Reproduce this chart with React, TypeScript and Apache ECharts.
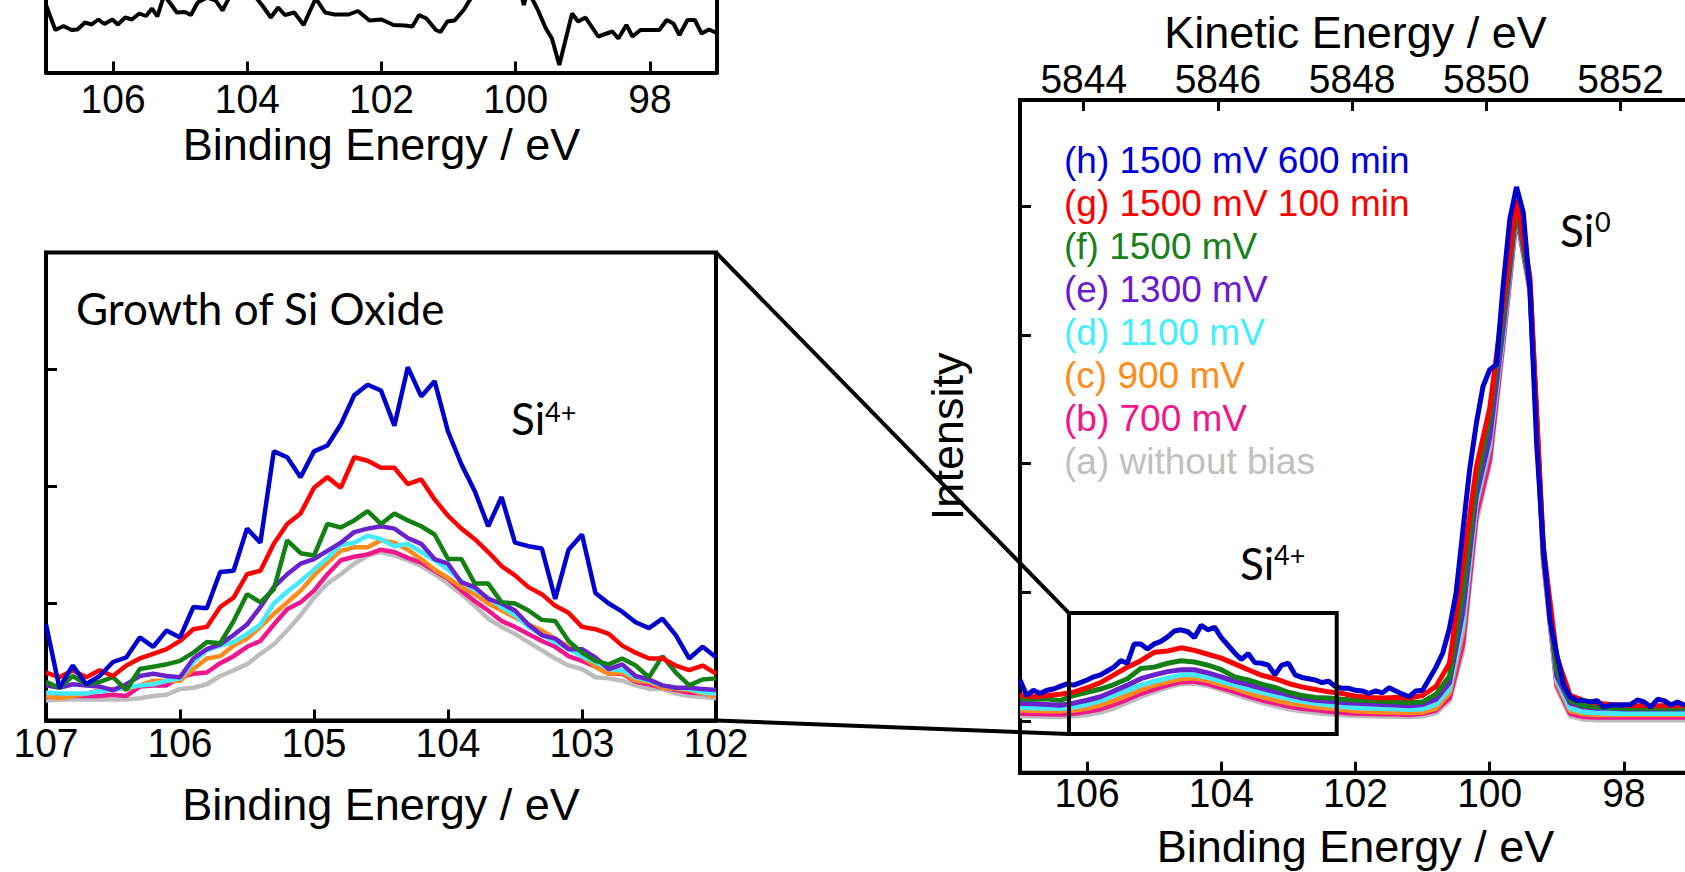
import React, { useEffect, useRef } from "react";
import * as echarts from "echarts";

// ---------- series identity ----------
const SERIES_NAMES = [
  "(a) without bias",
  "(b) 700 mV",
  "(c) 900 mV",
  "(d) 1100 mV",
  "(e) 1300 mV",
  "(f) 1500 mV",
  "(g) 1500 mV 100 min",
  "(h) 1500 mV 600 min",
];
const SERIES_COLORS = ["#bdbdbd", "#f0168c", "#ff8c1a", "#44eaff", "#6a22cc", "#138013", "#ff0000", "#0000cc"];
const LEGEND_COLORS = ["#c0c0c0", "#f0168c", "#ff8c1a", "#44eeff", "#6a1ad0", "#1a801a", "#ff0000", "#0000dd"];

// ---------- top-left panel (difference spectrum, only its lower part visible) ----------
const TL_BE = [107.0, 106.86, 106.74, 106.62, 106.53, 106.42, 106.32, 106.22, 106.13, 106.01, 105.93, 105.82, 105.72, 105.61, 105.51, 105.42, 105.34, 105.24, 105.14, 105.05, 104.93, 104.84, 104.74, 104.6, 104.47, 104.37, 104.25, 104.07, 103.86, 103.77, 103.65, 103.54, 103.44, 103.3, 103.16, 103.05, 102.98, 102.84, 102.7, 102.49, 102.35, 102.18, 102.0, 101.82, 101.65, 101.54, 101.44, 101.33, 101.19, 101.12, 101.02, 100.91, 100.77, 100.67, 100.46, 99.96, 99.88, 99.82, 99.68, 99.55, 99.46, 99.35, 99.16, 99.07, 98.96, 98.77, 98.56, 98.47, 98.35, 98.26, 98.14, 97.86, 97.75, 97.65, 97.56, 97.44, 97.33, 97.23, 97.12, 97.02];
const TL_VAL = [67.5, 42.5, 46.5, 42.5, 43, 50, 48, 53, 48.5, 53, 48, 55, 53, 59, 56.5, 64, 56, 77.5, 68.5, 60, 60.5, 57.5, 70, 75, 72, 62, 77.5, 81, 74, 66.5, 55, 65, 57.5, 60, 47.5, 64, 74, 60, 58, 58, 61.5, 52, 53, 47.5, 47, 46, 57.5, 54, 42.5, 40.5, 51, 52, 63, 74, 92, 92, 67.5, 82, 64, 44, 34, 7.5, 59, 51, 55, 36, 41, 34, 47.5, 36, 42.5, 42.5, 52.5, 49, 37.5, 52.5, 52.5, 39, 43, 40];
const TL_TICKS = [106, 104, 102, 100, 98];
const TL_X_RANGE = [97, 107];
const TL_Y_RANGE = [0, 72.5];

// ---------- inset (Growth of Si Oxide), 0.1 eV steps from 107.0 to 102.0 ----------
const INSET_BE = Array.from({ length: 51 }, (_, i) => +(107 - 0.1 * i).toFixed(1));
const INSET_A = [0.17, 0.18, 0.18, 0.18, 0.18, 0.18, 0.18, 0.19, 0.21, 0.22, 0.27, 0.28, 0.31, 0.38, 0.43, 0.48, 0.57, 0.65, 0.77, 0.9, 1.05, 1.17, 1.25, 1.34, 1.41, 1.44, 1.41, 1.37, 1.32, 1.25, 1.17, 1.08, 0.98, 0.87, 0.8, 0.74, 0.67, 0.6, 0.53, 0.47, 0.44, 0.37, 0.36, 0.34, 0.3, 0.27, 0.27, 0.23, 0.21, 0.2, 0.19];
const INSET_B = [0.2, 0.21, 0.21, 0.21, 0.21, 0.22, 0.21, 0.29, 0.3, 0.3, 0.37, 0.4, 0.41, 0.49, 0.55, 0.63, 0.68, 0.82, 0.95, 1.01, 1.11, 1.25, 1.37, 1.4, 1.42, 1.46, 1.44, 1.39, 1.35, 1.28, 1.21, 1.11, 1.02, 0.94, 0.85, 0.8, 0.74, 0.68, 0.63, 0.55, 0.51, 0.46, 0.4, 0.4, 0.33, 0.31, 0.28, 0.26, 0.24, 0.23, 0.21];
const INSET_C = [0.21, 0.19, 0.21, 0.23, 0.26, 0.27, 0.27, 0.3, 0.34, 0.34, 0.34, 0.44, 0.53, 0.55, 0.64, 0.7, 0.8, 0.91, 1.01, 1.11, 1.24, 1.35, 1.45, 1.48, 1.48, 1.54, 1.52, 1.46, 1.38, 1.29, 1.22, 1.14, 1.08, 1.0, 0.94, 0.88, 0.82, 0.77, 0.7, 0.63, 0.55, 0.46, 0.4, 0.41, 0.34, 0.33, 0.28, 0.27, 0.26, 0.23, 0.21];
const INSET_D = [0.24, 0.23, 0.23, 0.23, 0.25, 0.26, 0.28, 0.3, 0.31, 0.34, 0.36, 0.5, 0.6, 0.64, 0.67, 0.74, 0.82, 1.0, 1.1, 1.19, 1.29, 1.39, 1.5, 1.52, 1.58, 1.55, 1.49, 1.51, 1.44, 1.37, 1.29, 1.19, 1.12, 1.05, 0.97, 0.9, 0.8, 0.73, 0.67, 0.61, 0.55, 0.5, 0.44, 0.43, 0.37, 0.34, 0.3, 0.28, 0.27, 0.24, 0.23];
const INSET_E = [0.3, 0.28, 0.31, 0.3, 0.29, 0.26, 0.31, 0.38, 0.4, 0.38, 0.37, 0.53, 0.61, 0.65, 0.73, 0.82, 0.97, 1.14, 1.25, 1.34, 1.38, 1.45, 1.52, 1.61, 1.64, 1.66, 1.64, 1.56, 1.51, 1.38, 1.34, 1.18, 1.14, 1.04, 1.0, 0.94, 0.82, 0.73, 0.7, 0.61, 0.61, 0.54, 0.44, 0.48, 0.38, 0.35, 0.3, 0.28, 0.28, 0.27, 0.26];
const INSET_F = [0.33, 0.28, 0.38, 0.31, 0.33, 0.37, 0.26, 0.44, 0.46, 0.48, 0.51, 0.58, 0.67, 0.66, 0.85, 1.08, 1.01, 1.12, 1.54, 1.43, 1.41, 1.68, 1.65, 1.71, 1.79, 1.68, 1.77, 1.71, 1.66, 1.59, 1.38, 1.38, 1.17, 1.17, 1.01, 1.0, 0.94, 0.86, 0.85, 0.68, 0.58, 0.51, 0.48, 0.53, 0.47, 0.37, 0.55, 0.41, 0.3, 0.35, 0.36];
const INSET_G = [0.41, 0.37, 0.43, 0.37, 0.43, 0.38, 0.47, 0.53, 0.57, 0.61, 0.68, 0.78, 0.8, 0.97, 1.05, 1.25, 1.28, 1.51, 1.68, 1.77, 1.99, 2.08, 1.99, 2.25, 2.22, 2.16, 2.16, 2.02, 2.06, 1.89, 1.75, 1.64, 1.55, 1.44, 1.32, 1.24, 1.14, 1.08, 0.98, 0.92, 0.8, 0.78, 0.74, 0.64, 0.58, 0.53, 0.53, 0.47, 0.43, 0.47, 0.4];
const INSET_H = [0.82, 0.28, 0.47, 0.31, 0.38, 0.5, 0.54, 0.71, 0.63, 0.77, 0.71, 0.97, 0.96, 1.27, 1.28, 1.64, 1.52, 2.3, 2.25, 2.08, 2.3, 2.35, 2.53, 2.78, 2.87, 2.82, 2.52, 3.02, 2.77, 2.9, 2.47, 2.19, 1.96, 1.66, 1.91, 1.52, 1.49, 1.47, 1.04, 1.46, 1.59, 1.09, 1.0, 0.93, 0.84, 0.79, 0.87, 0.73, 0.53, 0.63, 0.54];
const INSET_VALUES = [INSET_A, INSET_B, INSET_C, INSET_D, INSET_E, INSET_F, INSET_G, INSET_H];
const INSET_X_RANGE = [102, 107];
const INSET_Y_RANGE = [0, 4];
const INSET_TICKS = [107, 106, 105, 104, 103, 102];

// ---------- main panel, 0.2 eV steps (a..g) and 0.1 eV steps (h), 107 -> 97 ----------
const MAIN_BE_COARSE = Array.from({ length: 51 }, (_, i) => +(107 - 0.2 * i).toFixed(1));
const MAIN_BE_FINE = Array.from({ length: 101 }, (_, i) => +(107 - 0.1 * i).toFixed(1));
const MAIN_A = [1.04, 1.038, 1.035, 1.035, 1.04, 1.05, 1.07, 1.1, 1.145, 1.19, 1.23, 1.265, 1.29, 1.295, 1.275, 1.245, 1.21, 1.175, 1.145, 1.12, 1.095, 1.08, 1.065, 1.055, 1.048, 1.042, 1.04, 1.038, 1.036, 1.035, 1.04, 1.065, 1.16, 1.55, 2.55, 3.0, 3.92, 4.92, 4.34, 2.24, 1.26, 1.04, 1.015, 1.01, 1.01, 1.01, 1.01, 1.01, 1.01, 1.01, 1.01];
const MAIN_B = [1.06, 1.058, 1.056, 1.054, 1.06, 1.075, 1.095, 1.13, 1.17, 1.215, 1.25, 1.28, 1.305, 1.31, 1.29, 1.26, 1.23, 1.195, 1.165, 1.14, 1.115, 1.098, 1.088, 1.075, 1.067, 1.06, 1.058, 1.055, 1.055, 1.05, 1.06, 1.085, 1.18, 1.6, 2.6, 3.03, 3.95, 4.93, 4.35, 2.25, 1.28, 1.06, 1.035, 1.03, 1.03, 1.03, 1.03, 1.03, 1.03, 1.03, 1.03];
const MAIN_C = [1.086, 1.083, 1.08, 1.08, 1.085, 1.1, 1.125, 1.16, 1.2, 1.245, 1.28, 1.305, 1.33, 1.335, 1.315, 1.285, 1.255, 1.22, 1.19, 1.165, 1.14, 1.125, 1.11, 1.1, 1.09, 1.08, 1.075, 1.07, 1.07, 1.065, 1.07, 1.1, 1.22, 1.7, 2.68, 3.12, 4.0, 4.96, 4.37, 2.27, 1.3, 1.08, 1.055, 1.05, 1.05, 1.05, 1.05, 1.05, 1.05, 1.05, 1.05];
const MAIN_D = [1.106, 1.103, 1.1, 1.098, 1.11, 1.13, 1.16, 1.2, 1.24, 1.28, 1.31, 1.335, 1.36, 1.36, 1.34, 1.31, 1.28, 1.25, 1.225, 1.2, 1.175, 1.155, 1.14, 1.125, 1.115, 1.105, 1.1, 1.098, 1.095, 1.09, 1.095, 1.13, 1.25, 1.75, 2.7, 3.15, 4.0, 4.97, 4.38, 2.28, 1.32, 1.1, 1.07, 1.065, 1.06, 1.06, 1.06, 1.06, 1.06, 1.06, 1.06];
const MAIN_E = [1.137, 1.135, 1.13, 1.124, 1.14, 1.163, 1.19, 1.235, 1.28, 1.33, 1.36, 1.385, 1.4, 1.4, 1.375, 1.345, 1.31, 1.285, 1.255, 1.23, 1.205, 1.18, 1.163, 1.155, 1.145, 1.14, 1.135, 1.13, 1.125, 1.12, 1.13, 1.17, 1.3, 1.85, 2.75, 3.2, 4.05, 4.98, 4.38, 2.28, 1.35, 1.14, 1.11, 1.1, 1.1, 1.095, 1.095, 1.095, 1.095, 1.095, 1.095];
const MAIN_F = [1.176, 1.17, 1.175, 1.16, 1.2, 1.225, 1.25, 1.285, 1.33, 1.41, 1.42, 1.45, 1.47, 1.46, 1.435, 1.4, 1.344, 1.32, 1.288, 1.262, 1.225, 1.2, 1.185, 1.18, 1.17, 1.165, 1.16, 1.155, 1.15, 1.145, 1.15, 1.21, 1.35, 2.0, 2.85, 3.35, 4.15, 5.0, 4.4, 2.3, 1.4, 1.16, 1.12, 1.11, 1.105, 1.1, 1.1, 1.1, 1.1, 1.1, 1.1];
const MAIN_G = [1.2, 1.19, 1.2, 1.21, 1.225, 1.26, 1.3, 1.36, 1.42, 1.47, 1.535, 1.545, 1.57, 1.55, 1.52, 1.49, 1.445, 1.4, 1.357, 1.33, 1.293, 1.267, 1.246, 1.228, 1.215, 1.195, 1.185, 1.18, 1.185, 1.18, 1.2, 1.27, 1.45, 2.2, 2.97, 3.43, 4.24, 5.05, 4.45, 2.35, 1.5, 1.2, 1.16, 1.14, 1.13, 1.125, 1.12, 1.12, 1.12, 1.12, 1.12];
const MAIN_H = [
  1.32, 1.2, 1.24, 1.215, 1.24, 1.25, 1.27, 1.29, 1.28, 1.3,
  1.32, 1.345, 1.36, 1.39, 1.42, 1.47, 1.45, 1.6, 1.6, 1.56,
  1.6, 1.62, 1.655, 1.7, 1.71, 1.695, 1.65, 1.745, 1.71, 1.73,
  1.65, 1.59, 1.53, 1.48, 1.525, 1.455, 1.45, 1.435, 1.36, 1.435,
  1.45, 1.36, 1.34, 1.33, 1.32, 1.3, 1.31, 1.27, 1.255, 1.255,
  1.24, 1.235, 1.215, 1.235, 1.22, 1.26, 1.235, 1.21, 1.19, 1.235,
  1.24, 1.33, 1.42, 1.53, 1.72, 2.0, 2.48, 2.95, 3.31, 3.6,
  3.73, 3.77, 4.38, 4.9, 5.15, 4.95, 4.35, 3.15, 2.35, 1.78,
  1.52, 1.28, 1.19, 1.16, 1.16, 1.15, 1.16, 1.11, 1.125, 1.125,
  1.125, 1.13, 1.165, 1.15, 1.11, 1.17, 1.16, 1.125, 1.15, 1.125,
  1.14,
];
const MAIN_COARSE_VALUES = [MAIN_A, MAIN_B, MAIN_C, MAIN_D, MAIN_E, MAIN_F, MAIN_G];
const MAIN_X_RANGE = [97, 107];
const MAIN_Y_RANGE = [0.6, 5.825];
const MAIN_BE_TICKS = [106, 104, 102, 100, 98];
const MAIN_Y_TICKS = [1, 2, 3, 4, 5];
const KE_PLUS_BE = 5950.05;
const KE_TICKS = [5844, 5846, 5848, 5850, 5852];

// zoom box drawn in the main panel (binding energy, intensity)
const ZOOM_BOX_BE = [106.27, 102.28];
const ZOOM_BOX_I = [0.9, 1.84];

const FONT = "'Liberation Sans', Arial, Helvetica, sans-serif";
const FONT_SI = "Lato, 'Open Sans', sans-serif";
const BLACK = "#000";
const TICK_FONT_SIZE = 41;
const TICK_SCALE_X = 0.95;

function tickCfg(custom?: number[]) {
  const t: any = { show: true, inside: true, length: 11, lineStyle: { color: BLACK, width: 3 } };
  if (custom) t.customValues = custom;
  return t;
}
const noLabel = { show: false };
const nameStyle = { fontSize: 45, fontFamily: FONT, color: BLACK };
const axisLine = { show: true, onZero: false, lineStyle: { color: BLACK, width: 4 } };

function buildOption(): any {
  const series: any[] = [];
  series.push({
    type: "line",
    name: "__diff",
    xAxisIndex: 0,
    yAxisIndex: 0,
    data: TL_BE.map((x, i) => [x, TL_VAL[i]]),
    symbol: "none",
    lineStyle: { color: BLACK, width: 4 },
    clip: true,
    silent: true,
  });
  SERIES_NAMES.forEach((name, k) => {
    series.push({
      type: "line",
      name,
      xAxisIndex: 1,
      yAxisIndex: 2,
      data: INSET_BE.map((x, i) => [x, INSET_VALUES[k][i]]),
      symbol: "none",
      lineStyle: { color: SERIES_COLORS[k], width: 4.5 },
      itemStyle: { color: SERIES_COLORS[k] },
      clip: true,
      silent: true,
    });
  });
  SERIES_NAMES.forEach((name, k) => {
    const fine = k === 7;
    const xs = fine ? MAIN_BE_FINE : MAIN_BE_COARSE;
    const ys = fine ? MAIN_H : MAIN_COARSE_VALUES[k];
    series.push({
      type: "line",
      name,
      xAxisIndex: 2,
      yAxisIndex: 3,
      data: xs.map((x, i) => [x, ys[i]]),
      symbol: "none",
      lineStyle: { color: SERIES_COLORS[k], width: 5 },
      itemStyle: { color: SERIES_COLORS[k] },
      clip: true,
      silent: true,
    });
  });
  series.push({
    type: "line",
    name: "__box",
    xAxisIndex: 2,
    yAxisIndex: 3,
    data: [
      [ZOOM_BOX_BE[0], ZOOM_BOX_I[0]],
      [ZOOM_BOX_BE[1], ZOOM_BOX_I[0]],
      [ZOOM_BOX_BE[1], ZOOM_BOX_I[1]],
      [ZOOM_BOX_BE[0], ZOOM_BOX_I[1]],
      [ZOOM_BOX_BE[0], ZOOM_BOX_I[0]],
    ],
    symbol: "none",
    lineStyle: { color: BLACK, width: 4, cap: "square", join: "miter" },
    z: 5,
    silent: true,
  });

  const legendText = { fontSize: 37, fontFamily: FONT };

  return {
    animation: false,
    backgroundColor: "#fff",
    grid: [
      { left: 46, top: 0, width: 671, height: 72.5, show: false, outerBoundsMode: "none" },
      { left: 46, top: 252.5, width: 670, height: 468, show: true, borderColor: BLACK, borderWidth: 4, backgroundColor: "transparent", outerBoundsMode: "none" },
      { left: 1020, top: 100, width: 671, height: 672.7, show: true, borderColor: BLACK, borderWidth: 4, backgroundColor: "transparent", outerBoundsMode: "none" },
    ],
    xAxis: [
      {
        gridIndex: 0, type: "value", min: TL_X_RANGE[0], max: TL_X_RANGE[1], inverse: true, position: "bottom",
        axisLine, axisTick: tickCfg(TL_TICKS), axisLabel: noLabel, splitLine: { show: false },
        name: "Binding Energy / eV", nameLocation: "middle", nameGap: 49, nameTextStyle: nameStyle, nameMoveOverlap: false,
      },
      {
        gridIndex: 1, type: "value", min: INSET_X_RANGE[0], max: INSET_X_RANGE[1], interval: 1, inverse: true, position: "bottom",
        axisLine, axisTick: tickCfg(), axisLabel: noLabel, splitLine: { show: false },
        name: "Binding Energy / eV", nameLocation: "middle", nameGap: 61, nameTextStyle: nameStyle, nameMoveOverlap: false,
      },
      {
        gridIndex: 2, type: "value", min: MAIN_X_RANGE[0], max: MAIN_X_RANGE[1], inverse: true, position: "bottom",
        axisLine, axisTick: tickCfg(MAIN_BE_TICKS), axisLabel: noLabel, splitLine: { show: false },
        name: "Binding Energy / eV", nameLocation: "middle", nameGap: 51, nameTextStyle: nameStyle, nameMoveOverlap: false,
      },
      {
        gridIndex: 2, type: "value", min: KE_PLUS_BE - MAIN_X_RANGE[1], max: KE_PLUS_BE - MAIN_X_RANGE[0], position: "top",
        axisLine, axisTick: tickCfg(KE_TICKS), axisLabel: noLabel, splitLine: { show: false },
        name: "Kinetic Energy / eV", nameLocation: "middle", nameGap: 45, nameTextStyle: nameStyle, nameMoveOverlap: false,
      },
    ],
    yAxis: [
      { gridIndex: 0, type: "value", min: TL_Y_RANGE[0], max: TL_Y_RANGE[1], position: "left", axisLine, axisTick: { show: false }, axisLabel: noLabel, splitLine: { show: false } },
      { gridIndex: 0, type: "value", min: TL_Y_RANGE[0], max: TL_Y_RANGE[1], position: "right", axisLine, axisTick: { show: false }, axisLabel: noLabel, splitLine: { show: false } },
      { gridIndex: 1, type: "value", min: INSET_Y_RANGE[0], max: INSET_Y_RANGE[1], interval: 1, position: "left", axisLine, axisTick: tickCfg(), axisLabel: noLabel, splitLine: { show: false } },
      {
        gridIndex: 2, type: "value", min: MAIN_Y_RANGE[0], max: MAIN_Y_RANGE[1], position: "left", axisLine,
        axisTick: tickCfg(MAIN_Y_TICKS), axisLabel: { show: false, customValues: MAIN_Y_TICKS }, splitLine: { show: false },
        name: "Intensity", nameLocation: "middle", nameGap: 50, nameTextStyle: nameStyle, nameMoveOverlap: false,
      },
    ],
    legend: {
      show: true,
      orient: "vertical",
      left: 1058,
      top: 142,
      padding: 0,
      itemGap: 6,
      itemWidth: 0,
      itemHeight: 0,
      selectedMode: false,
      itemStyle: { opacity: 0 },
      lineStyle: { opacity: 0 },
      textStyle: legendText,
      data: SERIES_NAMES.map((n, k) => ({ name: n, textStyle: { ...legendText, color: LEGEND_COLORS[k] } })).reverse(),
    },
    series,
  };
}

function siLabel(x: number, y: number, sup: string, size: number, supSize: number, supDx: number, supDy: number) {
  return [
    { type: "text", x, y, z: 10, style: { text: "Si", fill: BLACK, fontSize: size, fontFamily: FONT_SI, align: "left", verticalAlign: "middle" } },
    { type: "text", x: x + supDx, y: y + supDy, z: 10, style: { text: sup, fill: BLACK, fontSize: supSize, fontFamily: FONT_SI, align: "left", verticalAlign: "middle" } },
  ];
}

function tickText(x: number, y: number, v: number) {
  return {
    type: "text", x, y, scaleX: TICK_SCALE_X, z: 10, silent: true,
    style: { text: String(v), fill: BLACK, fontSize: TICK_FONT_SIZE, fontFamily: FONT, align: "center", verticalAlign: "middle" },
  };
}

export default function App() {
  const ref = useRef<HTMLDivElement>(null);
  useEffect(() => {
    const el = ref.current;
    if (!el) return;
    const chart = echarts.init(el, null, { renderer: "svg", width: 1685, height: 872 });
    chart.setOption(buildOption());

    const px = (gridIndex: number, x: number, y: number) => chart.convertToPixel({ gridIndex } as any, [x, y]) as number[];

    const insetTR = px(1, INSET_X_RANGE[0], INSET_Y_RANGE[1]);
    const insetBR = px(1, INSET_X_RANGE[0], INSET_Y_RANGE[0]);
    const boxTL = px(2, ZOOM_BOX_BE[0], ZOOM_BOX_I[1]);
    const boxBL = px(2, ZOOM_BOX_BE[0], ZOOM_BOX_I[0]);

    // tick labels, placed from the axes' own scales
    const tlBottom = px(0, TL_X_RANGE[0], TL_Y_RANGE[0])[1];
    const insetBottom = insetBR[1];
    const mainBottom = px(2, MAIN_X_RANGE[0], MAIN_Y_RANGE[0])[1];
    const mainTop = px(2, MAIN_X_RANGE[0], MAIN_Y_RANGE[1])[1];
    const labels: any[] = [];
    TL_TICKS.forEach((v) => labels.push(tickText(px(0, v, TL_Y_RANGE[0])[0], tlBottom + 26, v)));
    INSET_TICKS.forEach((v) => labels.push(tickText(px(1, v, INSET_Y_RANGE[0])[0], insetBottom + 22.5, v)));
    MAIN_BE_TICKS.forEach((v) => labels.push(tickText(px(2, v, MAIN_Y_RANGE[0])[0], mainBottom + 20, v)));
    KE_TICKS.forEach((v) => {
      let x = chart.convertToPixel({ xAxisIndex: 3 } as any, v) as any;
      if (typeof x !== "number" || !isFinite(x)) x = px(2, KE_PLUS_BE - v, MAIN_Y_RANGE[0])[0];
      labels.push(tickText(x, mainTop - 21, v));
    });

    const graphic: any[] = [
      { type: "line", z: 20, shape: { x1: insetTR[0], y1: insetTR[1], x2: boxTL[0], y2: boxTL[1] }, style: { stroke: BLACK, lineWidth: 4 } },
      { type: "line", z: 20, shape: { x1: insetBR[0], y1: insetBR[1], x2: boxBL[0], y2: boxBL[1] }, style: { stroke: BLACK, lineWidth: 4 } },
      { type: "text", x: 76, y: 308, z: 10, style: { text: "Growth of Si Oxide", fill: BLACK, fontSize: 44, fontFamily: FONT_SI, align: "left", verticalAlign: "middle" } },
      ...siLabel(511, 418, "4+", 44, 27, 34, -7),
      ...siLabel(1240, 563, "4+", 44, 27, 34, -9),
      ...siLabel(1560, 230, "0", 44, 27, 35, -9),
      ...labels,
    ];
    chart.setOption({ graphic });
    return () => chart.dispose();
  }, []);
  return <div ref={ref} style={{ position: "fixed", left: 0, top: 0, width: 1685, height: 872, background: "#fff" }} />;
}
